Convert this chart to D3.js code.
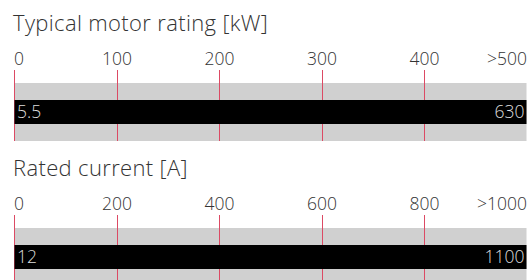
<!DOCTYPE html>
<html>
<head>
<meta charset="utf-8">
<script src="https://cdn.jsdelivr.net/npm/d3@7"></script>
<style>
  body { margin: 0; background: #fff; }
  svg { display: block; font-family: "Open Sans", sans-serif; font-weight: 300; }
</style>
</head>
<body>
<script>
// one panel per quantity
var titles = ["Typical motor rating [kW]", "Rated current [A]"];
var minValues = [5.5, 12];
var maxValues = [630, 1100];
var axisMax = [500, 1000];
var tickValues = [
  [0, 100, 200, 300, 400, 500],
  [0, 200, 400, 600, 800, 1000]
];
var tickLabels = [
  ["0", "100", "200", "300", "400", ">500"],
  ["0", "200", "400", "600", "800", ">1000"]
];

var width = 527, height = 280;
var svg = d3.select("body").append("svg")
  .attr("width", width)
  .attr("height", height);

titles.forEach(function (title, i) {
  var g = svg.append("g").attr("transform", "translate(0," + (i * 145) + ")");

  var x = d3.scaleLinear()
    .domain([0, axisMax[i]])
    .range([14, 526.5]);

  g.append("text")
    .attr("x", 13)
    .attr("y", 30.5)
    .attr("font-size", 22)
    .attr("letter-spacing", 0.35)
    .attr("fill", "#333")
    .text(title);

  // grey track
  g.append("rect")
    .attr("x", x(0))
    .attr("y", 83)
    .attr("width", x(axisMax[i]) - x(0))
    .attr("height", 58)
    .attr("fill", "#d0d0d0");

  var n = tickValues[i].length;
  g.selectAll("line.tick")
    .data(tickValues[i])
    .enter().append("line")
    .attr("class", "tick")
    .attr("x1", function (d) { return Math.round(x(d)) + 0.5; })
    .attr("x2", function (d) { return Math.round(x(d)) + 0.5; })
    .attr("y1", 70)
    .attr("y2", 141)
    .attr("stroke", "#dc4a64")
    .attr("stroke-width", 1);

  g.selectAll("text.tick")
    .data(tickValues[i])
    .enter().append("text")
    .attr("class", "tick")
    .attr("x", function (d, j) { return j === 0 ? x(d) : x(d) + 0.5; })
    .attr("y", 65)
    .attr("font-size", 17.5)
    .attr("fill", "#333")
    .attr("text-anchor", function (d, j) {
      return j === 0 ? "start" : (j === n - 1 ? "end" : "middle");
    })
    .text(function (d, j) { return tickLabels[i][j]; });

  // value bar, clipped at the axis end
  var hi = Math.min(maxValues[i], axisMax[i]);
  g.append("rect")
    .attr("x", x(0) + 0.5)
    .attr("y", 100)
    .attr("width", x(hi) - x(0) - 0.5)
    .attr("height", 24)
    .attr("fill", "#000");

  g.append("text")
    .attr("x", 17)
    .attr("y", 118)
    .attr("font-size", 17.5)
    .attr("fill", "#ddd")
    .text(minValues[i]);

  g.append("text")
    .attr("x", x(hi) - 2)
    .attr("y", 118)
    .attr("font-size", 17.5)
    .attr("fill", "#ddd")
    .attr("text-anchor", "end")
    .text(maxValues[i]);
});
</script>
</body>
</html>
